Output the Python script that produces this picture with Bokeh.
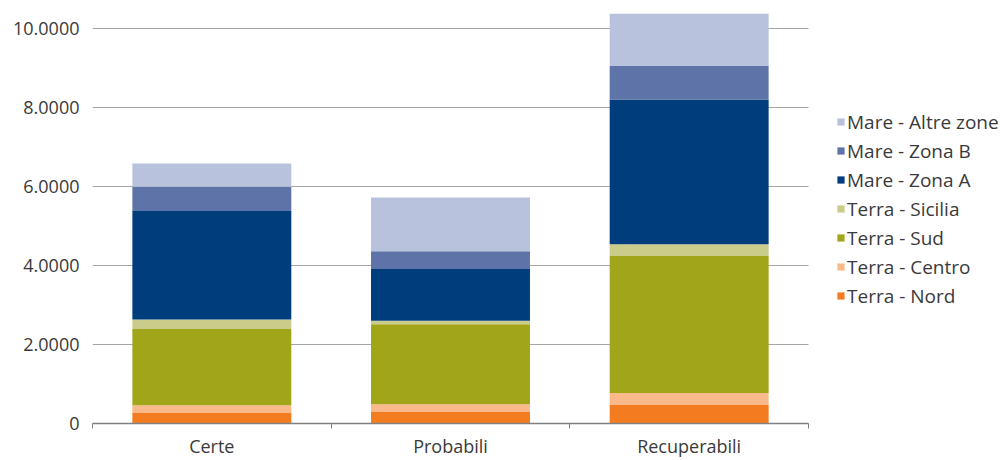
from bokeh.plotting import figure
from bokeh.models import Legend, LegendItem, FixedTicker, Range1d, ColumnDataSource
from bokeh.embed import file_html
from bokeh.resources import INLINE

categories = ["Certe", "Probabili", "Recuperabili"]
series = ["Terra - Nord", "Terra - Centro", "Terra - Sud", "Terra - Sicilia",
          "Mare - Zona A", "Mare - Zona B", "Mare - Altre zone"]
terra_nord = [0.28, 0.29, 0.47]
terra_centro = [0.18, 0.20, 0.30]
terra_sud = [1.93, 2.02, 3.47]
terra_sicilia = [0.24, 0.09, 0.30]
mare_zona_a = [2.75, 1.31, 3.66]
mare_zona_b = [0.61, 0.45, 0.85]
mare_altre_zone = [0.59, 1.36, 1.32]
colors = ["#F47C20", "#FAB98A", "#A0A519", "#CACC89", "#003D7C", "#5E74A8", "#B9C2DC"]
y_ticks = [0, 2, 4, 6, 8, 10]
y_tick_labels = ["0", "2.0000", "4.0000", "6.0000", "8.0000", "10.0000"]

FONT = "Open Sans"
TXT = "#3a3a3a"

n = len(categories)
x_pos = [i + 0.5 for i in range(n)]
data = {"x": x_pos}
values = [terra_nord, terra_centro, terra_sud, terra_sicilia, mare_zona_a, mare_zona_b, mare_altre_zone]
for s, v in zip(series, values):
    data[s] = v
source = ColumnDataSource(data)

# frame spans to the right edge so that the legend can sit inside it;
# the axis and grid are bounded to the category span [0, n]
p = figure(width=1000, height=460, output_backend="svg", toolbar_location=None,
           x_range=Range1d(0, n * 908 / 716), y_range=Range1d(0, 10.48))
p.min_border_left = 92
p.min_border_right = 0
p.min_border_top = 9
p.min_border_bottom = 37
p.outline_line_color = None

renderers = p.vbar_stack(series, x="x", width=0.666, color=colors, source=source, line_color=None)

# y axis
p.yaxis.ticker = FixedTicker(ticks=y_ticks)
p.yaxis.major_label_overrides = dict(zip(y_ticks, y_tick_labels))
p.yaxis.axis_line_color = None
p.yaxis.major_tick_line_color = None
p.yaxis.major_tick_out = 0
p.yaxis.minor_tick_line_color = None
p.yaxis.major_label_standoff = 13
p.yaxis.major_label_text_font = FONT
p.yaxis.major_label_text_font_size = "18px"
p.yaxis.major_label_text_color = TXT
p.ygrid.grid_line_color = "#A6A6A6"
p.ygrid.grid_line_width = 1
try:
    p.ygrid.cross_bounds = (0, n)
except AttributeError:
    pass

# x axis
p.xaxis.bounds = (0, n)
p.xaxis.ticker = FixedTicker(ticks=x_pos, minor_ticks=list(range(n + 1)))
p.xaxis.major_label_overrides = dict(zip(x_pos, categories))
p.xaxis.major_tick_line_color = None
p.xaxis.major_tick_out = 0
p.xaxis.major_tick_in = 0
p.xaxis.minor_tick_line_color = "#808080"
p.xaxis.minor_tick_out = 5
p.xaxis.minor_tick_in = 0
p.xaxis.axis_line_color = "#808080"
p.xaxis.axis_line_width = 1.5
p.xaxis.major_label_standoff = 5
p.xaxis.major_label_text_font = FONT
p.xaxis.major_label_text_font_size = "18px"
p.xaxis.major_label_text_line_height = 1.0
p.xaxis.major_label_text_color = TXT
p.xgrid.visible = False

items = [LegendItem(label=s, renderers=[r]) for s, r in reversed(list(zip(series, renderers)))]
legend = Legend(items=items, location=(744, 113), orientation="vertical",
                glyph_width=9, glyph_height=9, label_standoff=2, label_height=29,
                spacing=0, padding=0, margin=0, border_line_color=None,
                background_fill_alpha=0, label_text_font=FONT,
                label_text_font_size="19px", label_text_color=TXT)
p.add_layout(legend, "center")

open("out.html", "w").write(file_html(p, INLINE))
